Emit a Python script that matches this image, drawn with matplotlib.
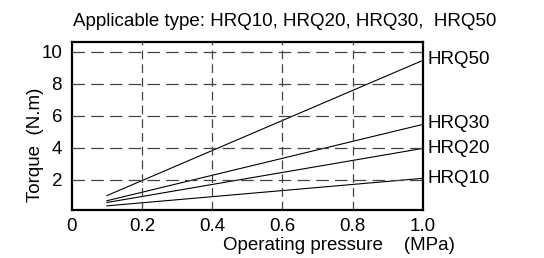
import matplotlib.pyplot as plt

plt.rcParams['font.family'] = ['Liberation Sans', 'DejaVu Sans']

pressure = [0.1, 1.0]
hrq50 = [1.0, 9.45]
hrq30 = [0.68, 5.45]
hrq20 = [0.57, 3.95]
hrq10 = [0.36, 2.08]
series = [("HRQ50", hrq50, 9.5), ("HRQ30", hrq30, 5.5), ("HRQ20", hrq20, 3.95), ("HRQ10", hrq10, 2.05)]

fig = plt.figure(figsize=(5.44, 2.58), dpi=100)
ax = fig.add_axes([0.132, 0.186, 0.645, 0.651])

for name, vals, label_y in series:
    ax.plot(pressure, vals, color="black", lw=0.8)
    ax.text(1.015, label_y, name, fontsize=13.5, va="center", ha="left", clip_on=False)

ax.set_xlim(0, 1.0)
ax.set_ylim(0.1, 10.6)
ax.set_xticks([0, 0.2, 0.4, 0.6, 0.8, 1.0])
ax.set_xticklabels(["0", "0.2", "0.4", "0.6", "0.8", "1.0"])
ax.set_yticks([2, 4, 6, 8, 10])
ax.tick_params(length=0, labelsize=13.5)
ax.tick_params(axis="y", pad=7)
ax.tick_params(axis="x", pad=6)

for x in [0.2, 0.4, 0.6, 0.8]:
    ax.axvline(x, color="#444444", lw=0.9, dashes=(7, 4))
for y in [2, 4, 6, 8, 10]:
    ax.axhline(y, color="#444444", lw=0.9, dashes=(10, 5))

for s in ax.spines.values():
    s.set_linewidth(1.6)

ax.set_ylabel("Torque  (N.m)", fontsize=13.5)
ax.yaxis.set_label_coords(-0.08, 0.39)
ax.set_xlabel("Operating pressure    (MPa)", fontsize=13.5, labelpad=1, x=0.76)
fig.text(0.524, 0.915, "Applicable type: HRQ10, HRQ20, HRQ30,  HRQ50", fontsize=13.5, ha="center", va="center")

fig.savefig("out.png", dpi=100)
